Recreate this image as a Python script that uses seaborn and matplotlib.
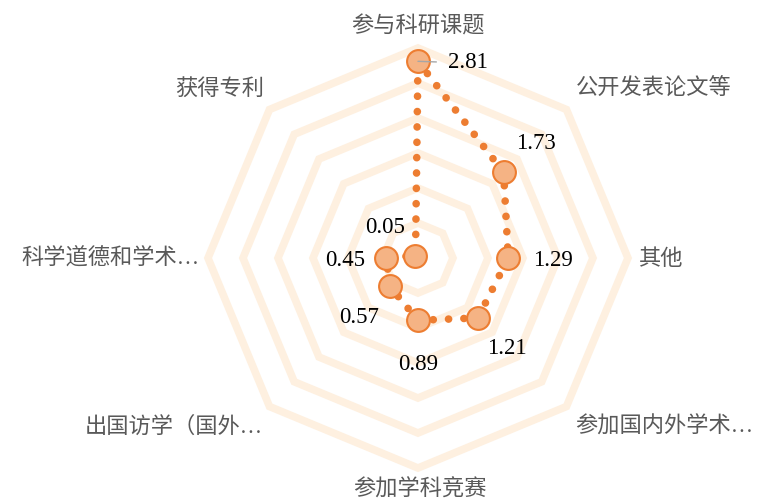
import numpy as np
import pandas as pd
import matplotlib
matplotlib.use("Agg")
import matplotlib.pyplot as plt
import seaborn as sns

# ---- data ----
categories = ["参与科研课题", "公开发表论文等", "其他", "参加国内外学术…",
              "参加学科竞赛", "出国访学（国外…", "科学道德和学术…", "获得专利"]
values = [2.81, 1.73, 1.29, 1.21, 0.89, 0.57, 0.45, 0.05]
value_labels = ["2.81", "1.73", "1.29", "1.21", "0.89", "0.57", "0.45", "0.05"]
ring_levels = [0.5, 1.0, 1.5, 2.0, 2.5, 3.0]

# ---- styles / positions (px offsets, converted to points) ----
PX = 0.72
val_offsets = [(30, -1), (32, 29), (45, -2), (29, -31), (0, -44), (-31, -31), (-41, -2), (-30, 28)]
val_ha = ["left", "center", "center", "center", "center", "center", "center", "center"]
cat_offsets = [(0, 21), (9, 20), (10, -2), (9, -21), (2, -22), (-7, -21), (-8, 0), (-5, 20)]
cat_ha = ["center", "left", "left", "left", "center", "right", "right", "right"]

ring_color = "#FEF0E0"
line_color = "#ED7D31"
marker_fill = "#F5B384"
text_grey = "#595959"

sns.set_theme(style="white")
plt.rcParams["font.family"] = ["Liberation Serif", "Noto Sans CJK SC", "DejaVu Sans"]

fig = plt.figure(figsize=(7.66, 5.04), dpi=100)
fig.patch.set_facecolor("white")
ax = fig.add_axes([0.2715, 0.0714, 0.5483, 0.8333], projection="polar")
ax.set_theta_offset(np.pi / 2)
ax.set_theta_direction(-1)
ax.set_facecolor("none")

n = len(categories)
angles = np.arange(n) * 2 * np.pi / n

# octagonal grid rings
for lv in ring_levels:
    ax.fill(angles, [lv] * n, facecolor="none", edgecolor=ring_color,
            linewidth=5.5, joinstyle="miter", zorder=1, clip_on=False)

# dotted data line (closed)
df = pd.DataFrame({"theta": np.append(angles, 2 * np.pi),
                   "value": values + [values[0]]})
sns.lineplot(data=df, x="theta", y="value", sort=False, estimator=None, ax=ax,
             color=line_color, linewidth=5.5, linestyle=(0, (0.01, 2.0)),
             dash_capstyle="round", zorder=3, clip_on=False)

# markers
sns.scatterplot(x=angles, y=values, ax=ax, s=270, color=marker_fill,
                edgecolor=line_color, linewidth=1.5, zorder=4, clip_on=False)

# value labels
for i, (a, v, lab) in enumerate(zip(angles, values, value_labels)):
    dx, dy = val_offsets[i]
    kw = {}
    if i == 0:
        kw["arrowprops"] = dict(arrowstyle="-", color="#A6A6A6", lw=1.0,
                                shrinkA=6, shrinkB=0, relpos=(0, 0.5))
    ax.annotate(lab, xy=(a, v), xytext=(dx * PX, dy * PX), textcoords="offset points",
                ha=val_ha[i], va="center", fontsize=16.5, color="black",
                family=["Liberation Serif", "Noto Sans CJK SC"], zorder=5,
                annotation_clip=False, **kw)

# category labels
for i, (a, cat) in enumerate(zip(angles, categories)):
    dx, dy = cat_offsets[i]
    ax.annotate(cat, xy=(a, ring_levels[-1]), xytext=(dx * PX, dy * PX),
                textcoords="offset points", ha=cat_ha[i], va="center",
                fontsize=16, color=text_grey,
                family=["Liberation Serif", "Noto Sans CJK SC"],
                annotation_clip=False)

ax.set_ylim(0, ring_levels[-1])
ax.set_xticks([])
ax.set_yticks([])
ax.set_xlabel("")
ax.set_ylabel("")
ax.grid(False)
ax.spines["polar"].set_visible(False)
if ax.get_legend():
    ax.get_legend().remove()

fig.savefig("out.png", dpi=100, facecolor="white")
